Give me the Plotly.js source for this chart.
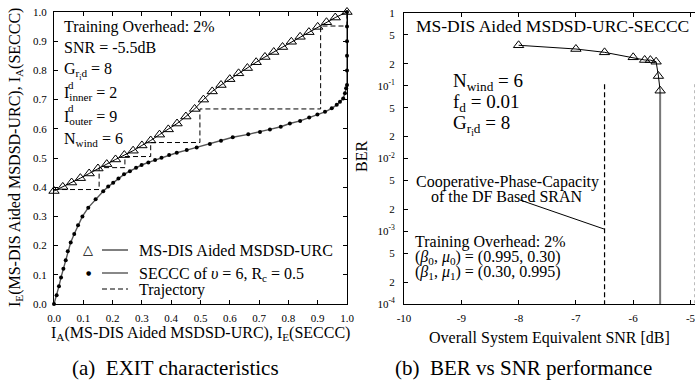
<!DOCTYPE html>
<html>
<head>
<meta charset="utf-8">
<script src="https://cdn.plot.ly/plotly-3.0.1.min.js"></script>
<style>
html,body{margin:0;padding:0;overflow:hidden;background:#fff;}
#chart{width:700px;height:385px;}
</style>
</head>
<body>
<div id="chart"></div>
<script>
// ---------- Data: (a) EXIT chart ----------
const urcX = [0,0.03,0.06,0.09,0.12,0.15,0.18,0.21,0.24,0.27,0.30,0.33,0.36,0.39,0.42,0.45,0.48,0.51,0.54,0.57,0.60,0.63,0.66,0.69,0.72,0.75,0.78,0.81,0.84,0.87,0.90,0.93,0.96,1.0];
const urcY = [0.387,0.401,0.416,0.431,0.447,0.464,0.479,0.495,0.510,0.525,0.543,0.560,0.580,0.598,0.618,0.642,0.668,0.700,0.728,0.750,0.770,0.790,0.808,0.828,0.846,0.863,0.880,0.898,0.915,0.931,0.949,0.965,0.981,1.0];

const secccX = [0,0.009,0.017,0.024,0.032,0.040,0.047,0.057,0.069,0.082,0.097,0.117,0.142,0.168,0.185,0.202,0.220,0.239,0.259,0.280,0.299,0.322,0.345,0.367,0.393,0.419,0.453,0.487,0.532,0.570,0.610,0.663,0.703,0.737,0.774,0.805,0.840,0.871,0.899,0.925,0.948,0.965,0.976,0.987,0.993,0.997,1.0,1.0,1.0,1.0,1.0,1.0];
const secccY = [0,0.030,0.061,0.091,0.121,0.150,0.181,0.211,0.240,0.270,0.300,0.330,0.359,0.386,0.402,0.415,0.430,0.444,0.455,0.467,0.476,0.485,0.493,0.501,0.510,0.518,0.527,0.536,0.548,0.559,0.571,0.581,0.589,0.598,0.607,0.618,0.627,0.639,0.649,0.658,0.670,0.682,0.693,0.704,0.722,0.739,0.750,0.800,0.850,0.900,0.950,1.0];

const trajX = [0,0.154,0.154,0.242,0.242,0.330,0.330,0.498,0.498,0.910,0.910,1.0,1.0];
const trajY = [0.392,0.392,0.467,0.467,0.505,0.505,0.553,0.553,0.668,0.668,0.952,0.952,1.0];

const exitTickVals = [0,0.1,0.2,0.3,0.4,0.5,0.6,0.7,0.8,0.9,1.0];
const exitTickText = ['0.0','0.1','0.2','0.3','0.4','0.5','0.6','0.7','0.8','0.9','1.0'];

// ---------- Data: (b) BER vs SNR ----------
const snrDb = [-8.0,-7.0,-6.5,-6.0,-5.8,-5.7,-5.6,-5.56,-5.53];
const ber   = [0.36,0.32,0.288,0.246,0.226,0.225,0.214,0.136,0.0855];
const waterfallX = [-5.53,-5.53];
const waterfallY = [0.0855,1e-5];
const capacityX = [-6.5,-6.5];
const capacityY = [0.105,1e-4];
const edgeX = [-4.93,-4.93];
const edgeY = [0.105,1e-4];

const snrTickVals = [-10,-9,-8,-7,-6,-5];
const snrTickText = ['-10','-9','-8','-7','-6','-5'];
const berTickVals = [1,0.5,0.2,0.1,0.05,0.02,0.01,0.005,0.002,0.001,0.0005,0.0002,0.0001];
const berTickText = ['1','5','2','10<sup>-1</sup>','5','2','10<sup>-2</sup>','5','2','10<sup>-3</sup>','5','2','10<sup>-4</sup>'];

// ---------- Layout helpers ----------
const W = 700, H = 385;
const SERIF = 'Liberation Serif, Times New Roman, serif';
const px = x => x / W;
const py = y => 1 - y / H;

const traces = [
  {x: urcX, y: urcY, xaxis:'x', yaxis:'y', mode:'lines+markers', cliponaxis:false,
   line:{color:'#000', width:1},
   marker:{symbol:'triangle-up-open', size:9, color:'#000', line:{width:1}}},
  {x: secccX, y: secccY, xaxis:'x', yaxis:'y', mode:'lines+markers', cliponaxis:false,
   line:{color:'#555', width:1.4},
   marker:{symbol:'circle', size:4, color:'#000'}},
  {x: trajX, y: trajY, xaxis:'x', yaxis:'y', mode:'lines', cliponaxis:false,
   line:{color:'#000', width:1, dash:'5px,3px'}},
  {x: capacityX, y: capacityY, xaxis:'x2', yaxis:'y2', mode:'lines',
   line:{color:'#000', width:1.2, dash:'5px,3px'}},
  {x: waterfallX, y: waterfallY, xaxis:'x2', yaxis:'y2', mode:'lines',
   line:{color:'#777', width:2}},
  {x: edgeX, y: edgeY, xaxis:'x2', yaxis:'y2', mode:'lines',
   line:{color:'#bbb', width:1, dash:'dot'}},
  {x: snrDb, y: ber, xaxis:'x2', yaxis:'y2', mode:'lines+markers', cliponaxis:false,
   line:{color:'#000', width:1},
   marker:{symbol:'triangle-up-open', size:9, color:'#000', line:{width:1}}}
];

const axCommon = {
  showline:true, linecolor:'#000', linewidth:1, mirror:'ticks',
  ticks:'inside', ticklen:4, tickcolor:'#000', tickwidth:1,
  showgrid:false, zeroline:false, fixedrange:true,
  tickfont:{family:SERIF, size:11, color:'#000'}
};

function ann(text, x, y, o) {
  o = o || {};
  return Object.assign({
    text: text, xref:'paper', yref:'paper', x: px(x), y: py(y),
    xanchor:'left', yanchor:'middle', showarrow:false,
    font:{family:SERIF, size:16, color:'#000'}
  }, o);
}
const f = (s) => ({family:SERIF, size:s, color:'#000'});

const annotations = [
  // (a) texts
  ann('Training Overhead: 2%', 62, 27),
  ann('SNR = -5.5dB', 62, 47),
  ann('G<sub>r<sub>i</sub>d</sub> = 8', 62, 71),
  ann('I<sub>inner</sub> = 2', 62, 94),
  ann('d', 66, 85, {font:f(11)}),
  ann('I<sub>outer</sub> = 9', 62, 117),
  ann('d', 66, 108, {font:f(11)}),
  ann('N<sub>wind</sub> = 6', 62, 139),
  // (a) legend
  ann('\u25B3', 88, 249, {xanchor:'center', font:{family:'DejaVu Sans', size:13, color:'#000'}}),
  ann('MS-DIS Aided MSDSD-URC', 137, 250),
  ann('\u25CF', 88, 272, {xanchor:'center', font:{family:'DejaVu Sans', size:6, color:'#000'}}),
  ann('SECCC of <i>\u03C5</i> = 6, R<sub>c</sub> = 0.5', 137, 274),
  ann('Trajectory', 137, 290),
  // (a) axis titles
  ann('I<sub>A</sub>(MS-DIS Aided MSDSD-URC), I<sub>E</sub>(SECCC)', 200, 333, {xanchor:'center'}),
  ann('I<sub>E</sub>(MS-DIS Aided MSDSD-URC), I<sub>A</sub>(SECCC)', 15, 158, {xanchor:'center', textangle:-90}),
  // (b) texts
  ann('MS-DIS Aided MSDSD-URC-SECCC', 552, 26, {xanchor:'center', font:f(17.5)}),
  ann('N<sub>wind</sub> = 6', 451, 82, {font:f(19)}),
  ann('f<sub>d</sub> = 0.01', 451, 103, {font:f(19)}),
  ann('G<sub>r<sub>i</sub>d</sub> = 8', 451, 125, {font:f(19)}),
  ann('Cooperative-Phase-Capacity', 507, 182, {xanchor:'center'}),
  ann('of the DF Based SRAN', 507, 197, {xanchor:'center'}),
  ann('Training Overhead: 2%', 413, 242),
  ann('(<i>\u03B2</i><sub>0</sub>, <i>\u03BC</i><sub>0</sub>) = (0.995, 0.30)', 413, 257),
  ann('(<i>\u03B2</i><sub>1</sub>, <i>\u03BC</i><sub>1</sub>) = (0.30, 0.995)', 413, 272),
  ann('Overall System Equivalent SNR [dB]', 549, 338, {xanchor:'center'}),
  ann('BER', 361, 157, {xanchor:'center', textangle:-90}),
  // captions
  ann('(a)&nbsp; EXIT characteristics', 175, 368, {xanchor:'center', font:f(21)}),
  ann('(b)&nbsp; BER vs SNR performance', 523, 368, {xanchor:'center', font:f(21)})
];

const shapes = [
  // legend line samples
  {type:'line', xref:'paper', yref:'paper', x0:px(102), x1:px(128), y0:py(250), y1:py(250), line:{color:'#000', width:1}},
  {type:'line', xref:'paper', yref:'paper', x0:px(102), x1:px(128), y0:py(273), y1:py(273), line:{color:'#555', width:1.4}},
  {type:'line', xref:'paper', yref:'paper', x0:px(102), x1:px(128), y0:py(289), y1:py(289), line:{color:'#000', width:1, dash:'5px,3px'}},
  // pointer to capacity line
  {type:'line', xref:'paper', yref:'paper', x0:px(520), x1:px(604), y0:py(200), y1:py(229), line:{color:'#000', width:1}}
];

const layout = {
  width: W, height: H,
  margin:{l:0, r:0, t:0, b:0},
  paper_bgcolor:'#fff', plot_bgcolor:'#fff',
  showlegend:false,
  font:{family:SERIF, color:'#000'},
  xaxis: Object.assign({}, axCommon, {domain:[px(54), px(347)], range:[0,1], anchor:'y',
    tickvals: exitTickVals, ticktext: exitTickText, ticklabelstandoff:4}),
  yaxis: Object.assign({}, axCommon, {domain:[py(304), py(12)], range:[0,1], anchor:'x',
    tickvals: exitTickVals, ticktext: exitTickText, ticklabelstandoff:4}),
  xaxis2: Object.assign({}, axCommon, {domain:[px(404), 1], range:[-10, -10 + (W-404)/57.3], anchor:'y2',
    tickvals: snrTickVals, ticktext: snrTickText, ticklabelstandoff:4}),
  yaxis2: Object.assign({}, axCommon, {domain:[py(304), py(13)], type:'log', range:[-4, 0], anchor:'x2',
    tickvals: berTickVals, ticktext: berTickText, ticklabelstandoff:6}),
  annotations: annotations,
  shapes: shapes
};

Plotly.newPlot('chart', traces, layout, {displayModeBar:false, staticPlot:true});
</script>
</body>
</html>
